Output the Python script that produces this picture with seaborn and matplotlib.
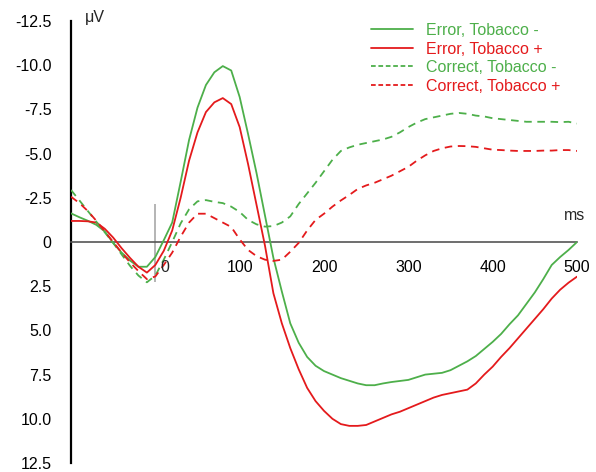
import numpy as np
import pandas as pd
import matplotlib
matplotlib.use("Agg")
import matplotlib.pyplot as plt
from matplotlib.lines import Line2D
import seaborn as sns

# ---------------- data ----------------
time_ms = list(range(-100, 501, 10))

error_tob_minus = [
    -1.62, -1.40, -1.20, -0.97, -0.60, 0.05, 0.60, 1.05, 1.40, 1.40,
    0.85, -0.10, -1.10, -3.40, -5.77, -7.60, -8.88, -9.60, -9.95, -9.70,
    -8.20, -6.10, -3.90, -1.50, 0.90, 2.80, 4.60, 5.70, 6.50, 7.00,
    7.30, 7.50, 7.70, 7.85, 8.00, 8.10, 8.10, 8.00, 7.92, 7.86,
    7.80, 7.65, 7.50, 7.45, 7.40, 7.25, 7.00, 6.75, 6.45, 6.05,
    5.65, 5.20, 4.65, 4.15, 3.50, 2.85, 2.10, 1.30, 0.85, 0.45,
    0.00]

error_tob_plus = [
    -1.19, -1.19, -1.17, -1.10, -0.75, -0.25, 0.35, 0.90, 1.40, 1.73,
    1.30, 0.50, -0.65, -2.50, -4.60, -6.20, -7.35, -7.90, -8.14, -7.80,
    -6.50, -4.40, -2.10, 0.20, 2.90, 4.60, 6.00, 7.20, 8.25, 9.00,
    9.55, 10.00, 10.30, 10.40, 10.40, 10.35, 10.15, 9.95, 9.75, 9.60,
    9.40, 9.20, 9.00, 8.80, 8.65, 8.55, 8.45, 8.35, 8.00, 7.50,
    7.05, 6.50, 6.00, 5.45, 4.90, 4.35, 3.80, 3.20, 2.70, 2.30,
    1.96]

correct_tob_minus = [
    -2.94, -2.35, -1.75, -1.15, -0.55, 0.05, 0.70, 1.35, 1.90, 2.28,
    1.90, 1.00, 0.00, -1.05, -1.85, -2.30, -2.37, -2.27, -2.20, -2.00,
    -1.70, -1.25, -1.00, -0.87, -0.90, -1.10, -1.45, -2.15, -2.75, -3.35,
    -4.00, -4.65, -5.15, -5.35, -5.50, -5.60, -5.70, -5.80, -5.95, -6.20,
    -6.50, -6.75, -6.95, -7.05, -7.15, -7.25, -7.30, -7.25, -7.15, -7.10,
    -7.00, -6.95, -6.90, -6.85, -6.80, -6.80, -6.80, -6.80, -6.78, -6.80,
    -6.70]

correct_tob_plus = [
    -2.56, -2.20, -1.75, -1.20, -0.60, 0.00, 0.60, 1.15, 1.65, 2.10,
    1.95, 1.30, 0.60, -0.30, -1.10, -1.60, -1.60, -1.35, -1.10, -0.85,
    -0.15, 0.45, 0.80, 1.00, 1.07, 1.00, 0.55, 0.05, -0.65, -1.25,
    -1.60, -2.00, -2.35, -2.66, -3.00, -3.20, -3.35, -3.55, -3.75, -4.00,
    -4.25, -4.60, -4.90, -5.15, -5.30, -5.40, -5.43, -5.42, -5.38, -5.30,
    -5.22, -5.20, -5.17, -5.15, -5.15, -5.15, -5.17, -5.17, -5.20, -5.20,
    -5.15]

conditions = ["Error, Tobacco -", "Error, Tobacco +",
              "Correct, Tobacco -", "Correct, Tobacco +"]
series = [error_tob_minus, error_tob_plus, correct_tob_minus, correct_tob_plus]

y_ticks = [-12.5, -10.0, -7.5, -5.0, -2.5, 0.0, 2.5, 5.0, 7.5, 10.0, 12.5]
y_tick_labels = ["-12.5", "-10.0", "-7.5", "-5.0", "-2.5", "0",
                 "2.5", "5.0", "7.5", "10.0", "12.5"]
x_ticks = [100, 200, 300, 400, 500]
x_tick_labels = ["100", "200", "300", "400", "500"]
stim_line_range = (-2.15, 2.25)

# ---------------- style ----------------
GREEN = "#4DAF4A"
RED = "#E41A1C"
FS = 11.5
LW = 1.3
palette = {conditions[0]: GREEN, conditions[1]: RED,
           conditions[2]: GREEN, conditions[3]: RED}
dash_map = {conditions[0]: "", conditions[1]: "",
            conditions[2]: (4.2, 3.1), conditions[3]: (4.2, 3.1)}

sns.set_style("white")
plt.rcParams["font.family"] = ["Liberation Sans", "DejaVu Sans"]
plt.rcParams["font.size"] = FS

df = pd.concat([
    pd.DataFrame({"time": time_ms, "amp": vals, "condition": name})
    for name, vals in zip(conditions, series)
], ignore_index=True)

fig = plt.figure(figsize=(5.96, 4.72), dpi=100)
ax = fig.add_axes([71 / 596, 1 - 463 / 472, (577 - 71) / 596, (463 - 21) / 472])

# stimulus onset line
ax.vlines(0, stim_line_range[0], stim_line_range[1], color="#a0a0a0", lw=1.1, zorder=1)

sns.lineplot(data=df, x="time", y="amp", hue="condition", style="condition",
             palette=palette, dashes=dash_map, hue_order=conditions,
             style_order=conditions, linewidth=LW, estimator=None, sort=False,
             legend=False, ax=ax, zorder=3)

ax.set_xlim(-100, 500)
ax.set_ylim(12.5, -12.5)
ax.set_xlabel("")
ax.set_ylabel("")

for s in ["top", "right"]:
    ax.spines[s].set_visible(False)
ax.spines["left"].set_color("black")
ax.spines["left"].set_linewidth(1.6)
ax.spines["bottom"].set_position(("data", 0))
ax.spines["bottom"].set_color("#555555")
ax.spines["bottom"].set_linewidth(1.2)

ax.set_yticks(y_ticks)
ax.set_yticklabels(y_tick_labels)
ax.set_xticks(x_ticks)
ax.set_xticklabels(x_tick_labels)
ax.tick_params(axis="y", direction="out", length=6.5, width=1.1, pad=7.5,
               labelsize=FS, color="black", labelcolor="black")
ax.tick_params(axis="x", direction="inout", length=7.2, width=1.1, pad=9.5,
               labelsize=FS, color="#333333", labelcolor="black")

# "0" label (offset right of the onset line)
ax.annotate("0", xy=(0, 0), xycoords="data", xytext=(6.5, -13.2),
            textcoords="offset points", ha="center", va="top", fontsize=FS)
# units
ax.annotate("ms", xy=(500, 0), xycoords="data", xytext=(-2, 19.4),
            textcoords="offset points", ha="center", va="center", fontsize=FS)
ax.annotate("μV", xy=(0, 1), xycoords="axes fraction", xytext=(10, 2.2),
            textcoords="offset points", ha="left", va="center", fontsize=FS)

# legend
handles = [
    Line2D([], [], color=GREEN, lw=LW),
    Line2D([], [], color=RED, lw=LW),
    Line2D([], [], color=GREEN, lw=LW, dashes=(2.6, 1.5)),
    Line2D([], [], color=RED, lw=LW, dashes=(2.6, 1.5)),
]
leg = fig.legend(handles, conditions, loc="upper left",
                 bbox_to_anchor=(371 / 596, 1 - 23 / 472),
                 frameon=False, borderpad=0, borderaxespad=0,
                 handlelength=2.6, handletextpad=0.85, labelspacing=0.22,
                 fontsize=FS, labelcolor="linecolor")

fig.savefig("out.png", dpi=100)
